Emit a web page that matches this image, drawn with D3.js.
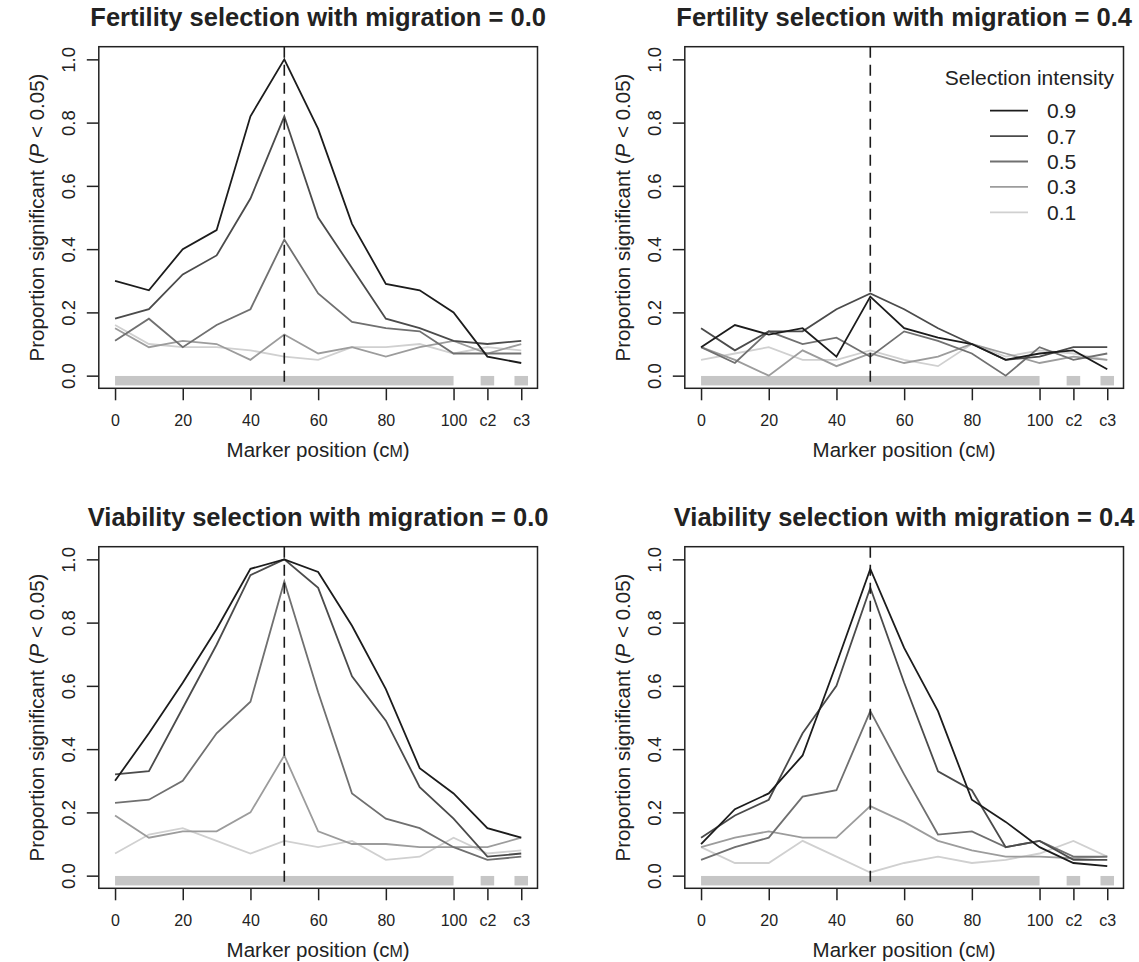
<!DOCTYPE html>
<html>
<head>
<meta charset="utf-8">
<script src="https://cdn.jsdelivr.net/npm/d3@7"></script>
<style>
  body { margin: 0; background: #fff; }
  svg { display: block; font-family: "Liberation Sans", Arial, Helvetica, sans-serif; }
</style>
</head>
<body>
<svg id="chart" width="1139" height="962"></svg>
<script>
// marker positions: 0..100 cM on chromosome 1, then c2 and c3 (control chromosomes)
const positions = [0, 10, 20, 30, 40, 50, 60, 70, 80, 90, 100, 110, 120];
const tickValues = [0, 20, 40, 60, 80, 100, 110, 120];
const tickLabels = ['0', '20', '40', '60', '80', '100', 'c2', 'c3'];
const yTicks = [0, 0.2, 0.4, 0.6, 0.8, 1.0];
const intensities = ['0.9', '0.7', '0.5', '0.3', '0.1'];
const lineColors = ['#1c1c1c', '#4b4b4b', '#707070', '#9c9c9c', '#d0d0d0'];
const chromosomeBars = [[0, 100], [108, 112], [118, 122]];
const selectedLocus = 50;

// one row per selection intensity (0.9, 0.7, 0.5, 0.3, 0.1)
const fertilityMig00 = [
  [0.30, 0.27, 0.40, 0.46, 0.82, 1.00, 0.78, 0.48, 0.29, 0.27, 0.20, 0.06, 0.04],
  [0.18, 0.21, 0.32, 0.38, 0.56, 0.82, 0.50, 0.34, 0.18, 0.15, 0.11, 0.10, 0.11],
  [0.11, 0.18, 0.09, 0.16, 0.21, 0.43, 0.26, 0.17, 0.15, 0.14, 0.07, 0.07, 0.07],
  [0.15, 0.09, 0.11, 0.10, 0.05, 0.13, 0.07, 0.09, 0.06, 0.09, 0.11, 0.07, 0.10],
  [0.16, 0.10, 0.09, 0.09, 0.08, 0.06, 0.05, 0.09, 0.09, 0.10, 0.07, 0.09, 0.08]
];
const fertilityMig04 = [
  [0.09, 0.16, 0.13, 0.15, 0.06, 0.25, 0.15, 0.12, 0.10, 0.05, 0.07, 0.08, 0.02],
  [0.15, 0.08, 0.14, 0.14, 0.21, 0.26, 0.21, 0.15, 0.10, 0.05, 0.06, 0.09, 0.09],
  [0.09, 0.04, 0.14, 0.10, 0.12, 0.06, 0.14, 0.11, 0.07, 0.00, 0.09, 0.05, 0.07],
  [0.09, 0.05, 0.00, 0.08, 0.03, 0.07, 0.04, 0.06, 0.10, 0.07, 0.04, 0.06, 0.05],
  [0.05, 0.07, 0.09, 0.05, 0.05, 0.08, 0.05, 0.03, 0.10, 0.06, 0.08, 0.07, 0.05]
];
const viabilityMig00 = [
  [0.30, 0.45, 0.61, 0.78, 0.97, 1.00, 0.96, 0.79, 0.59, 0.34, 0.26, 0.15, 0.12],
  [0.32, 0.33, 0.53, 0.73, 0.95, 1.00, 0.91, 0.63, 0.49, 0.28, 0.18, 0.06, 0.07],
  [0.23, 0.24, 0.30, 0.45, 0.55, 0.93, 0.58, 0.26, 0.18, 0.15, 0.09, 0.05, 0.06],
  [0.19, 0.12, 0.14, 0.14, 0.20, 0.38, 0.14, 0.10, 0.10, 0.09, 0.09, 0.09, 0.12],
  [0.07, 0.13, 0.15, 0.11, 0.07, 0.11, 0.09, 0.11, 0.05, 0.06, 0.12, 0.07, 0.08]
];
const viabilityMig04 = [
  [0.10, 0.21, 0.26, 0.38, 0.67, 0.97, 0.72, 0.52, 0.24, 0.17, 0.09, 0.04, 0.03],
  [0.12, 0.19, 0.24, 0.45, 0.60, 0.91, 0.61, 0.33, 0.27, 0.09, 0.11, 0.05, 0.05],
  [0.05, 0.09, 0.12, 0.25, 0.27, 0.52, 0.32, 0.13, 0.14, 0.09, 0.11, 0.06, 0.06],
  [0.09, 0.12, 0.14, 0.12, 0.12, 0.22, 0.17, 0.11, 0.08, 0.06, 0.06, 0.055, 0.06],
  [0.09, 0.04, 0.04, 0.11, 0.06, 0.01, 0.04, 0.06, 0.04, 0.05, 0.07, 0.11, 0.06]
];

const panels = [
  { title: 'Fertility selection with migration = 0.0', series: fertilityMig00, col: 0, row: 0, legend: false },
  { title: 'Fertility selection with migration = 0.4', series: fertilityMig04, col: 1, row: 0, legend: true },
  { title: 'Viability selection with migration = 0.0', series: viabilityMig00, col: 0, row: 1, legend: false },
  { title: 'Viability selection with migration = 0.4', series: viabilityMig04, col: 1, row: 1, legend: false }
];

const svg = d3.select('#chart');
const boxW = 438.7, boxH = 341.6;
const colLeft = [98.8, 684.8];
const rowTop = [46.7, 546.7];

function drawPanel(p) {
  const left = colLeft[p.col];
  const top = rowTop[p.row];
  const x = d3.scaleLinear().domain([-4.8, 124.8]).range([left, left + boxW]);
  const y = d3.scaleLinear().domain([-0.04, 1.04]).range([top + boxH, top]);
  const g = svg.append('g');

  // chromosome bars under the zero line
  g.selectAll('rect.chrom')
    .data(chromosomeBars)
    .enter()
    .append('rect')
    .attr('class', 'chrom')
    .attr('x', d => x(d[0]))
    .attr('width', d => x(d[1]) - x(d[0]))
    .attr('y', y(-0.001))
    .attr('height', y(-0.031) - y(-0.001))
    .attr('fill', '#c6c6c6');

  const line = d3.line()
    .x((d, i) => x(positions[i]))
    .y(d => y(d));

  // lighter lines first so the strongest selection sits on top
  const order = d3.range(p.series.length).reverse();
  g.selectAll('path.series')
    .data(order)
    .enter()
    .append('path')
    .attr('class', 'series')
    .attr('d', i => line(p.series[i]))
    .attr('fill', 'none')
    .attr('stroke', i => lineColors[i])
    .attr('stroke-width', 1.8)
    .attr('stroke-linejoin', 'miter');

  // selected locus
  g.append('line')
    .attr('x1', x(selectedLocus))
    .attr('x2', x(selectedLocus))
    .attr('y1', top)
    .attr('y2', top + boxH)
    .attr('stroke', '#1a1a1a')
    .attr('stroke-width', 1.6)
    .attr('stroke-dasharray', '11,7');

  // box
  g.append('rect')
    .attr('x', left)
    .attr('y', top)
    .attr('width', boxW)
    .attr('height', boxH)
    .attr('fill', 'none')
    .attr('stroke', '#222')
    .attr('stroke-width', 1.5);

  // x axis
  const xAxis = d3.axisBottom(x)
    .tickValues(tickValues)
    .tickFormat((d, i) => tickLabels[i])
    .tickSize(12)
    .tickPadding(14);
  const gx = g.append('g')
    .attr('transform', `translate(0,${top + boxH})`)
    .call(xAxis);
  gx.select('.domain').remove();
  gx.selectAll('.tick line').attr('stroke', '#222').attr('stroke-width', 1.5);
  gx.selectAll('.tick text')
    .attr('fill', '#222')
    .attr('font-size', 16)
    .attr('font-family', null);

  // y axis
  const yAxis = d3.axisLeft(y)
    .tickValues(yTicks)
    .tickFormat(d3.format('.1f'))
    .tickSize(12)
    .tickPadding(0);
  const gy = g.append('g')
    .attr('transform', `translate(${left},0)`)
    .call(yAxis);
  gy.select('.domain').remove();
  gy.selectAll('.tick line').attr('stroke', '#222').attr('stroke-width', 1.5);
  gy.selectAll('.tick text')
    .attr('fill', '#222')
    .attr('font-size', 18.5)
    .attr('font-family', null)
    .attr('text-anchor', 'middle')
    .attr('dy', null)
    .attr('x', null)
    .attr('transform', 'translate(-24,0) rotate(-90)');

  // title
  g.append('text')
    .attr('x', left + boxW / 2)
    .attr('y', top - 21)
    .attr('text-anchor', 'middle')
    .attr('font-size', 25.5)
    .attr('font-weight', 'bold')
    .attr('fill', '#222')
    .text(p.title);

  // x title
  const xt = g.append('text')
    .attr('x', left + boxW / 2)
    .attr('y', top + boxH + 69)
    .attr('text-anchor', 'middle')
    .attr('font-size', 20.5)
    .attr('fill', '#222');
  xt.append('tspan').text('Marker position (c');
  xt.append('tspan').attr('font-size', 16).text('M');
  xt.append('tspan').text(')');

  // y title
  const yt = g.append('text')
    .attr('transform', `translate(${left - 55},${top + boxH / 2}) rotate(-90)`)
    .attr('text-anchor', 'middle')
    .attr('font-size', 20.5)
    .attr('fill', '#222');
  yt.append('tspan').text('Proportion significant (');
  yt.append('tspan').attr('font-style', 'italic').text('P');
  yt.append('tspan').text(' < 0.05)');

  if (p.legend) drawLegend(g, left + boxW, top);
}

function drawLegend(g, right, top) {
  g.append('text')
    .attr('x', right - 9.5)
    .attr('y', top + 38)
    .attr('text-anchor', 'end')
    .attr('font-size', 21)
    .attr('fill', '#222')
    .text('Selection intensity');

  const rows = g.selectAll('g.legend-row')
    .data(intensities)
    .enter()
    .append('g')
    .attr('class', 'legend-row')
    .attr('transform', (d, i) => `translate(0,${top + 64 + i * 25.4})`);

  rows.append('line')
    .attr('x1', right - 133.5)
    .attr('x2', right - 95.5)
    .attr('stroke', (d, i) => lineColors[i])
    .attr('stroke-width', 1.8);

  rows.append('text')
    .attr('x', right - 76.5)
    .attr('y', 7.5)
    .attr('font-size', 21)
    .attr('fill', '#222')
    .text(d => d);
}

panels.forEach(drawPanel);
</script>
</body>
</html>
